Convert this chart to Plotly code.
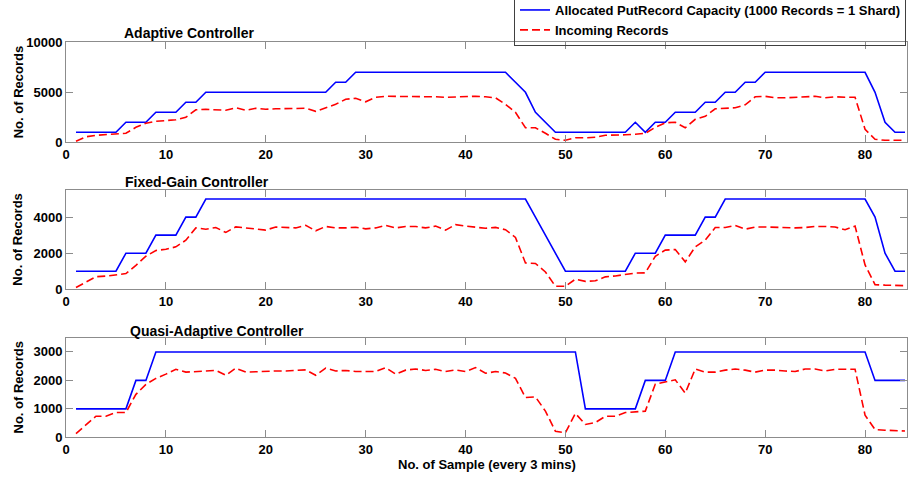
import plotly.graph_objects as go

samples = list(range(1, 85))

adaptive_capacity = ([1000]*5 + [2000]*3 + [3000]*3 + [4000]*2 + [5000]*13 + [6000]*2 + [7000]*16
                     + [6000, 5000, 3000, 2000] + [1000]*8 + [2000, 1000] + [2000]*2 + [3000]*3
                     + [4000]*2 + [5000]*2 + [6000]*2 + [7000]*11 + [5000, 2000, 1000, 1000])
adaptive_incoming = [100, 550, 700, 750, 800, 900, 1500, 1900, 2100, 2200,
                     2250, 2500, 3250, 3300, 3250, 3200, 3450, 3200, 3400, 3300,
                     3350, 3350, 3350, 3400, 3100, 3450, 3800, 4300, 4400, 4050,
                     4500, 4600, 4600, 4600, 4550, 4600, 4550, 4500, 4550, 4550,
                     4600, 4550, 4450, 3800, 3000, 1450, 1450, 900, 300, 200,
                     450, 450, 500, 700, 700, 750, 800, 900, 1500, 1950,
                     2000, 1450, 2300, 2600, 3350, 3400, 3450, 3750, 4550, 4600,
                     4450, 4450, 4500, 4500, 4600, 4450, 4550, 4500, 4500, 1300,
                     300, 200, 200, 200]

fixed_capacity = ([1000]*5 + [2000]*3 + [3000]*3 + [4000]*2 + [5000]*33 + [4000, 3000, 2000]
                  + [1000]*7 + [2000]*3 + [3000]*4 + [4000]*2 + [5000]*15 + [4000, 2000, 1000, 1000])
fixed_incoming = [100, 400, 700, 730, 800, 870, 1330, 1830, 2150, 2220,
                  2350, 2720, 3400, 3330, 3420, 3150, 3460, 3400, 3330, 3280,
                  3450, 3420, 3400, 3540, 3240, 3480, 3400, 3400, 3440, 3350,
                  3400, 3540, 3400, 3480, 3480, 3400, 3500, 3280, 3580, 3500,
                  3450, 3380, 3430, 3300, 2870, 1460, 1430, 960, 170, 170,
                  560, 440, 470, 690, 740, 810, 900, 910, 1830, 2170,
                  2200, 1520, 2350, 2720, 3420, 3420, 3540, 3330, 3450, 3450,
                  3420, 3420, 3400, 3420, 3480, 3480, 3450, 3300, 3500, 1350,
                  260, 230, 200, 200]

quasi_capacity = ([1000]*6 + [2000]*2 + [3000]*43 + [1000]*6 + [2000]*3 + [3000]*20 + [2000]*4)
quasi_incoming = [130, 420, 740, 740, 870, 870, 1510, 1860, 2070, 2220,
                  2390, 2290, 2310, 2310, 2350, 2180, 2430, 2290, 2310, 2310,
                  2330, 2330, 2360, 2370, 2180, 2430, 2330, 2350, 2310, 2310,
                  2310, 2450, 2220, 2360, 2400, 2350, 2390, 2310, 2370, 2310,
                  2450, 2250, 2310, 2260, 2070, 1400, 1420, 920, 210, 160,
                  840, 450, 520, 740, 740, 870, 890, 920, 1870, 1950,
                  2020, 1550, 2400, 2290, 2290, 2360, 2400, 2360, 2290, 2360,
                  2360, 2330, 2310, 2400, 2400, 2330, 2390, 2390, 2390, 780,
                  270, 250, 230, 220]

titles = ["Adaptive Controller", "Fixed-Gain Controller", "Quasi-Adaptive Controller"]
y_ranges = [[0, 10000], [0, 5500], [0, 3500]]
y_ticks = [[0, 5000, 10000], [0, 2000, 4000], [0, 1000, 2000, 3000]]
y_tick_labels = [["0", "5000", "10000"], ["0", "2000", "4000"], ["0", "1000", "2000", "3000"]]
x_ticks = [0, 10, 20, 30, 40, 50, 60, 70, 80]
series_names = ["Allocated PutRecord Capacity (1000 Records = 1 Shard)", "Incoming Records"]

W, H = 912, 478
FONT = "Liberation Sans, Arial, sans-serif"
AXC = "#8c8c8c"

def px(x):
    return x / W

def py(y):
    return (H - y) / H

# pixel boxes of the three panels (top, bottom)
panels = [(42.3, 142.3), (190.0, 289.3), (337.7, 437.3)]
title_pos = [(188.5, 33), (197, 182), (217, 331)]

fig = go.Figure()
caps = [adaptive_capacity, fixed_capacity, quasi_capacity]
incs = [adaptive_incoming, fixed_incoming, quasi_incoming]

for i in range(3):
    xa = "x" if i == 0 else f"x{i+1}"
    ya = "y" if i == 0 else f"y{i+1}"
    fig.add_trace(go.Scatter(x=samples, y=caps[i], mode="lines", name=series_names[0],
                             line=dict(color="#0000ff", width=1.6), xaxis=xa, yaxis=ya,
                             showlegend=(i == 0)))
    fig.add_trace(go.Scatter(x=samples, y=incs[i], mode="lines", name=series_names[1],
                             line=dict(color="#ff0000", width=1.6, dash="8px,4px"), xaxis=xa, yaxis=ya,
                             showlegend=(i == 0)))

layout = dict(
    width=W, height=H,
    margin=dict(l=0, r=0, t=0, b=0, autoexpand=False),
    paper_bgcolor="white", plot_bgcolor="white",
    font=dict(family=FONT, size=13, color="black", weight="bold"),
    showlegend=True,
    legend=dict(x=px(514), y=1 + 6 / H, xanchor="left", yanchor="top",
                bordercolor="#404040", borderwidth=1, bgcolor="rgba(255,255,255,0)",
                font=dict(family=FONT, size=13, color="black", weight="bold"),
                tracegroupgap=0),
    annotations=[],
)

for i in range(3):
    top, bot = panels[i]
    xk = "xaxis" if i == 0 else f"xaxis{i+1}"
    yk = "yaxis" if i == 0 else f"yaxis{i+1}"
    ya = "y" if i == 0 else f"y{i+1}"
    xa = "x" if i == 0 else f"x{i+1}"
    layout[xk] = dict(domain=[px(66), px(907)], range=[0, 84.2], anchor=ya,
                      tickvals=x_ticks, ticks="inside", ticklen=7, tickcolor=AXC,
                      showline=True, linecolor=AXC, linewidth=1, mirror="ticks",
                      showgrid=False, zeroline=False, automargin=False,
                      tickfont=dict(family=FONT, size=13, color="black", weight="bold"))
    layout[yk] = dict(domain=[py(bot), py(top)], range=y_ranges[i], anchor=xa,
                      tickvals=y_ticks[i], ticktext=y_tick_labels[i],
                      ticks="inside", ticklen=7, tickcolor=AXC,
                      showline=True, linecolor=AXC, linewidth=1, mirror="ticks",
                      showgrid=False, zeroline=False, automargin=False,
                      tickfont=dict(family=FONT, size=13, color="black", weight="bold"))
    tx, ty = title_pos[i]
    layout["annotations"].append(dict(text=f"<b>{titles[i]}</b>", x=px(tx), y=py(ty),
                                      xref="paper", yref="paper", xanchor="center", yanchor="middle",
                                      showarrow=False, font=dict(family=FONT, size=14, color="black")))
    layout["annotations"].append(dict(text="<b>No. of Records</b>", x=px(18), y=py((top + bot) / 2),
                                      xref="paper", yref="paper", xanchor="center", yanchor="middle",
                                      textangle=-90, showarrow=False,
                                      font=dict(family=FONT, size=13, color="black")))

layout["annotations"].append(dict(text="<b>No. of Sample (every 3 mins)</b>", x=px(487), y=py(464),
                                  xref="paper", yref="paper", xanchor="center", yanchor="middle",
                                  showarrow=False, font=dict(family=FONT, size=13, color="black")))

fig.update_layout(**layout)
fig.write_html("out.html",
               config={"displayModeBar": False},
               post_script="document.body.style.margin='0';document.body.style.padding='0';"
                           "document.body.style.overflow='hidden';")
